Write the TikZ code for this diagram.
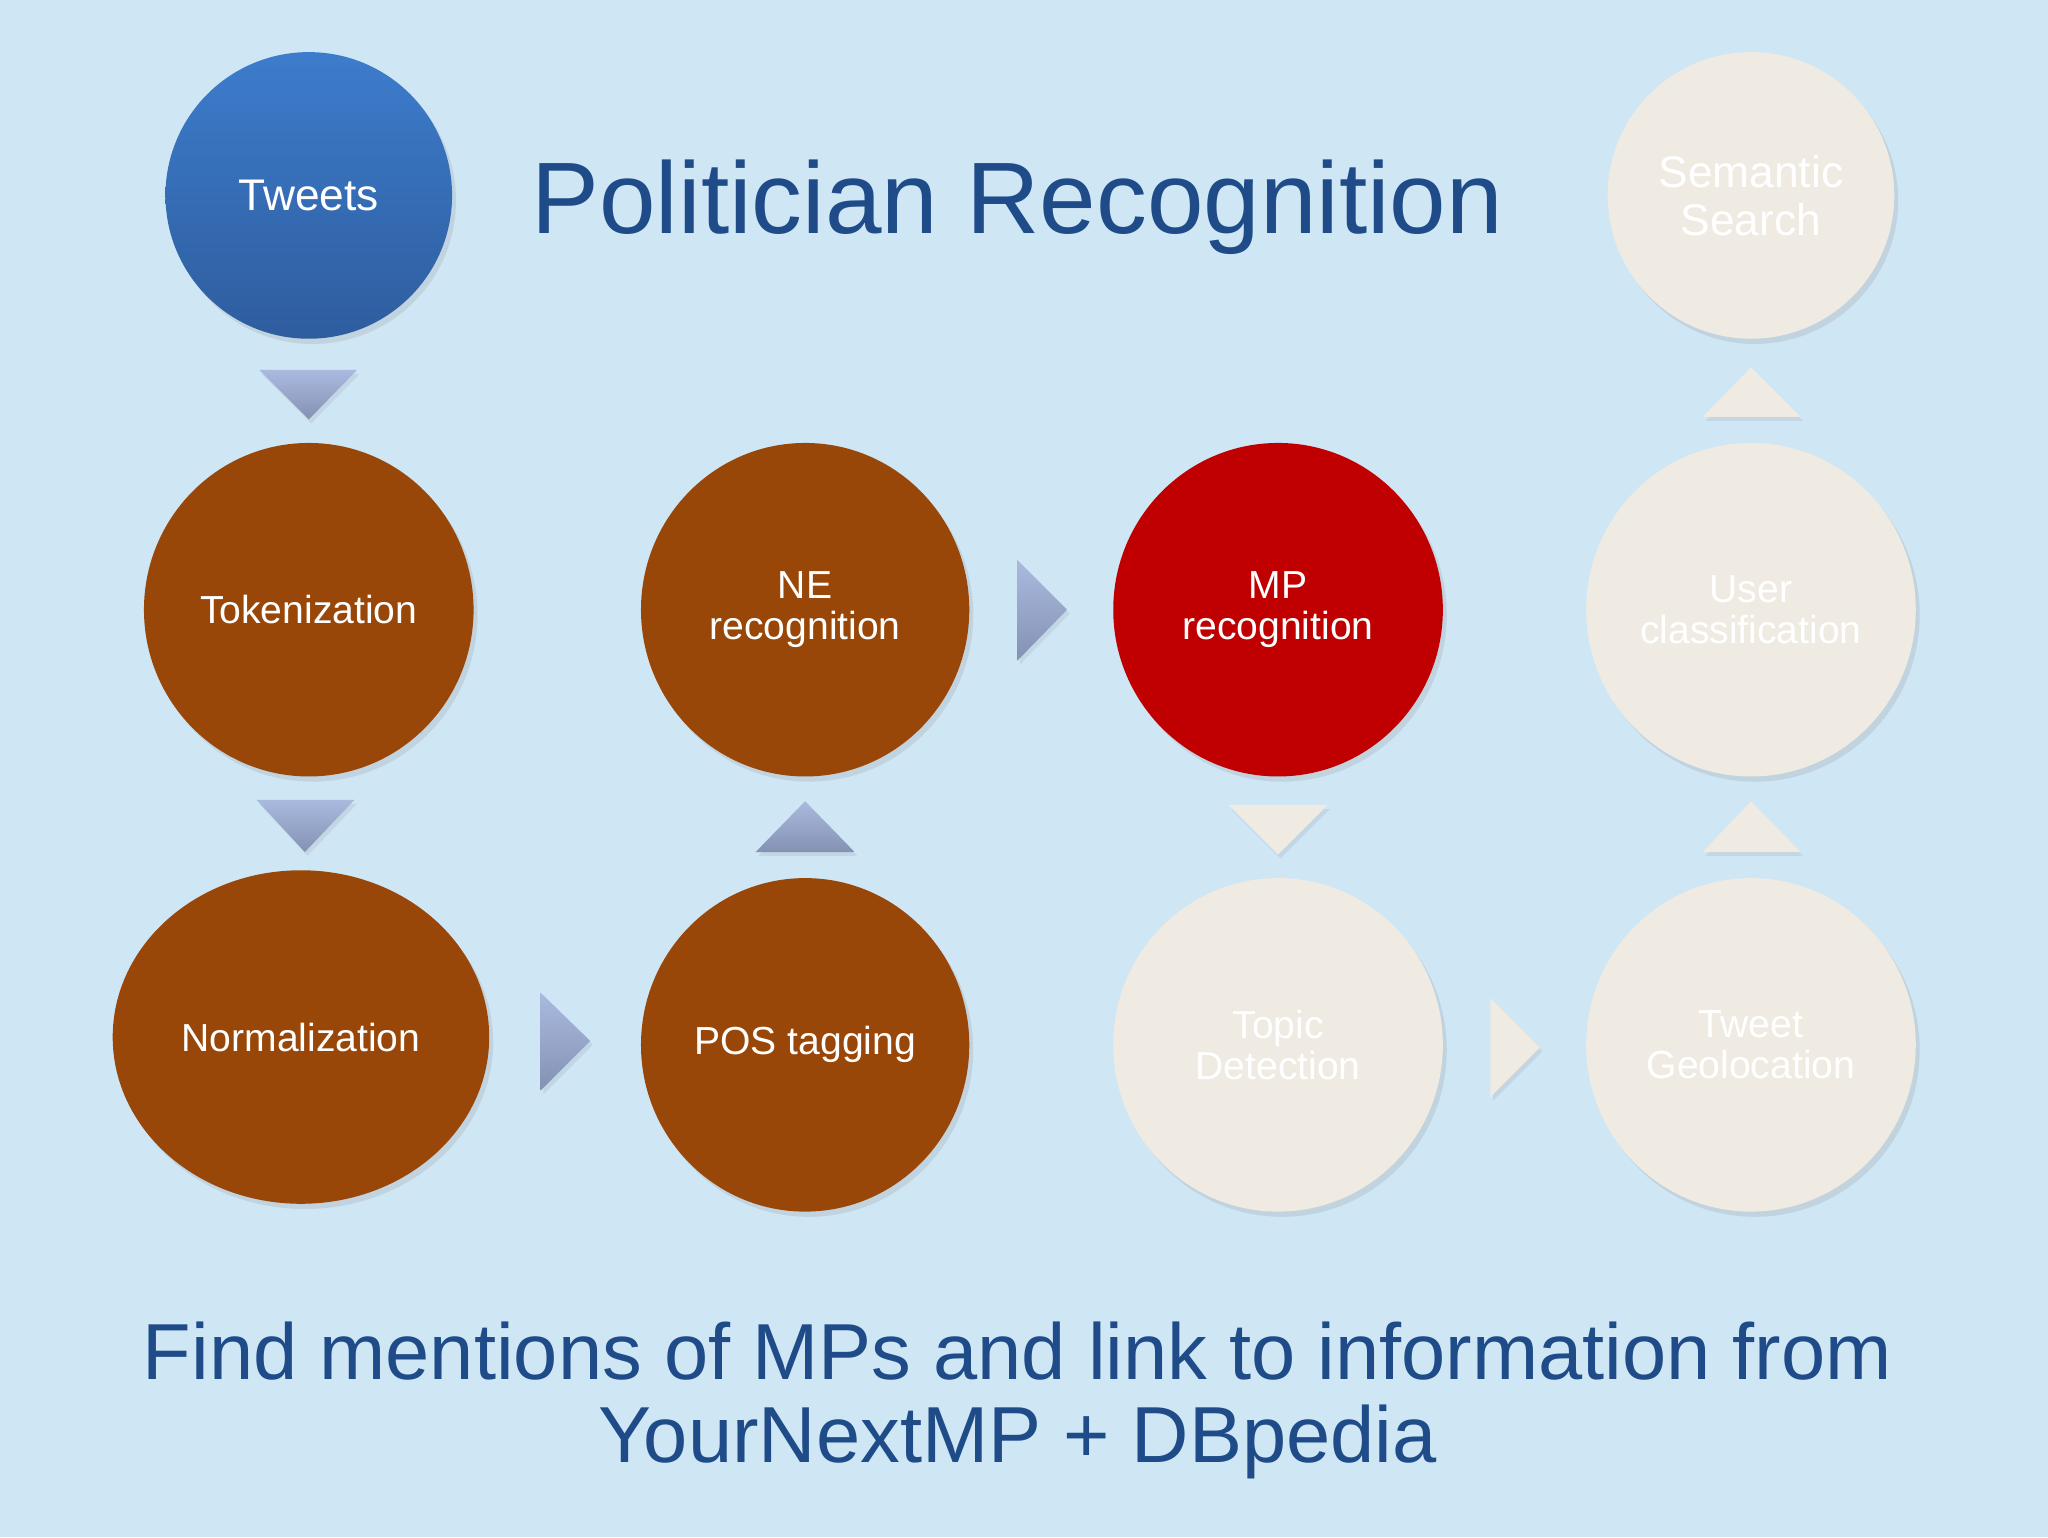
\documentclass[tikz,border=0pt]{standalone}
\usepackage{fontspec}
\setmainfont{Liberation Sans}
\usetikzlibrary{shapes.geometric,shadows}
\definecolor{bgc}{HTML}{CFE6F5}
\definecolor{titc}{HTML}{1F4C88}
\definecolor{brownc}{HTML}{994708}
\definecolor{redc}{HTML}{C00000}
\definecolor{creamc}{HTML}{EFEBE2}
\definecolor{bluetop}{HTML}{3D7CCC}
\definecolor{bluebot}{HTML}{2E5D9E}
\definecolor{tritop}{HTML}{AABADF}
\definecolor{tribot}{HTML}{8392B3}
\tikzset{
  bubble/.style={ellipse, inner sep=0pt, text=white, align=center,
    font=\fontsize{30}{31}\selectfont,
    drop shadow={opacity=0.18, shadow xshift=3pt, shadow yshift=-4pt}},
  bigtext/.style={font=\fontsize{34}{37}\selectfont},
  brownb/.style={bubble, fill=brownc},
  creamb/.style={bubble, fill=creamc},
  bluetri/.style={top color=tritop, bottom color=tribot, draw=none,
    drop shadow={opacity=0.15, shadow xshift=2pt, shadow yshift=-3pt}},
  creamtri/.style={fill=creamc,
    drop shadow={opacity=0.15, shadow xshift=2pt, shadow yshift=-3pt}},
}
\begin{document}
\begin{tikzpicture}[x=1pt,y=-1pt]
\fill[bgc] (-2,-2) rectangle (1570,1178);
\useasboundingbox (0,0) rectangle (1568,1176);

% circles
\node[bubble, bigtext, top color=bluetop, bottom color=bluebot, minimum width=220pt, minimum height=220pt] (tweets) at (235,148) {Tweets};
\node[brownb, minimum width=253pt, minimum height=256pt] (tok) at (235,466) {Tokenization};
\node[brownb, minimum width=289pt, minimum height=256pt] (norm) at (229,794) {Normalization};
\node[brownb, minimum width=252pt, minimum height=256pt] (pos) at (616,800) {POS tagging};
\node[brownb, minimum width=252pt, minimum height=256pt] (ne) at (616,466) {NE\\recognition};
\node[bubble, fill=redc, minimum width=253pt, minimum height=256pt] (mp) at (979,466) {MP\\recognition};
\node[creamb, minimum width=253pt, minimum height=256pt] (topic) at (979,800) {Topic\\Detection};
\node[creamb, minimum width=253pt, minimum height=256pt] (geo) at (1342,800) {Tweet\\Geolocation};
\node[creamb, minimum width=253pt, minimum height=256pt] (user) at (1342,466) {User\\classification};
\node[creamb, bigtext, minimum width=220pt, minimum height=220pt] (sem) at (1342,148) {Semantic\\Search};

% title and footer
\node[text=titc, font=\fontsize{78}{80}\selectfont, inner sep=0pt] (title) at (779,157) {Politician Recognition};
\node[text=titc, font=\fontsize{61}{64}\selectfont, align=center, inner sep=0pt] (foot) at (779,1073) {Find mentions of MPs and link to information from\\YourNextMP + DBpedia};

% blue triangles
\path[bluetri] (197,282) -- (272,282) -- (235,320) -- cycle;
\path[bluetri] (195,612) -- (270,612) -- (232,652) -- cycle;
\path[bluetri] (413,760) -- (451,797) -- (413,835) -- cycle;
\path[bluetri] (578,652) -- (654,652) -- (616,613) -- cycle;
\path[bluetri] (779,428) -- (817,466) -- (779,505) -- cycle;
% cream triangles
\path[creamtri] (941,616) -- (1017,616) -- (979,654) -- cycle;
\path[creamtri] (1142,764) -- (1180,802) -- (1142,840) -- cycle;
\path[creamtri] (1305,652) -- (1380,652) -- (1342,613) -- cycle;
\path[creamtri] (1305,318) -- (1380,318) -- (1342,280) -- cycle;
\end{tikzpicture}
\end{document}
